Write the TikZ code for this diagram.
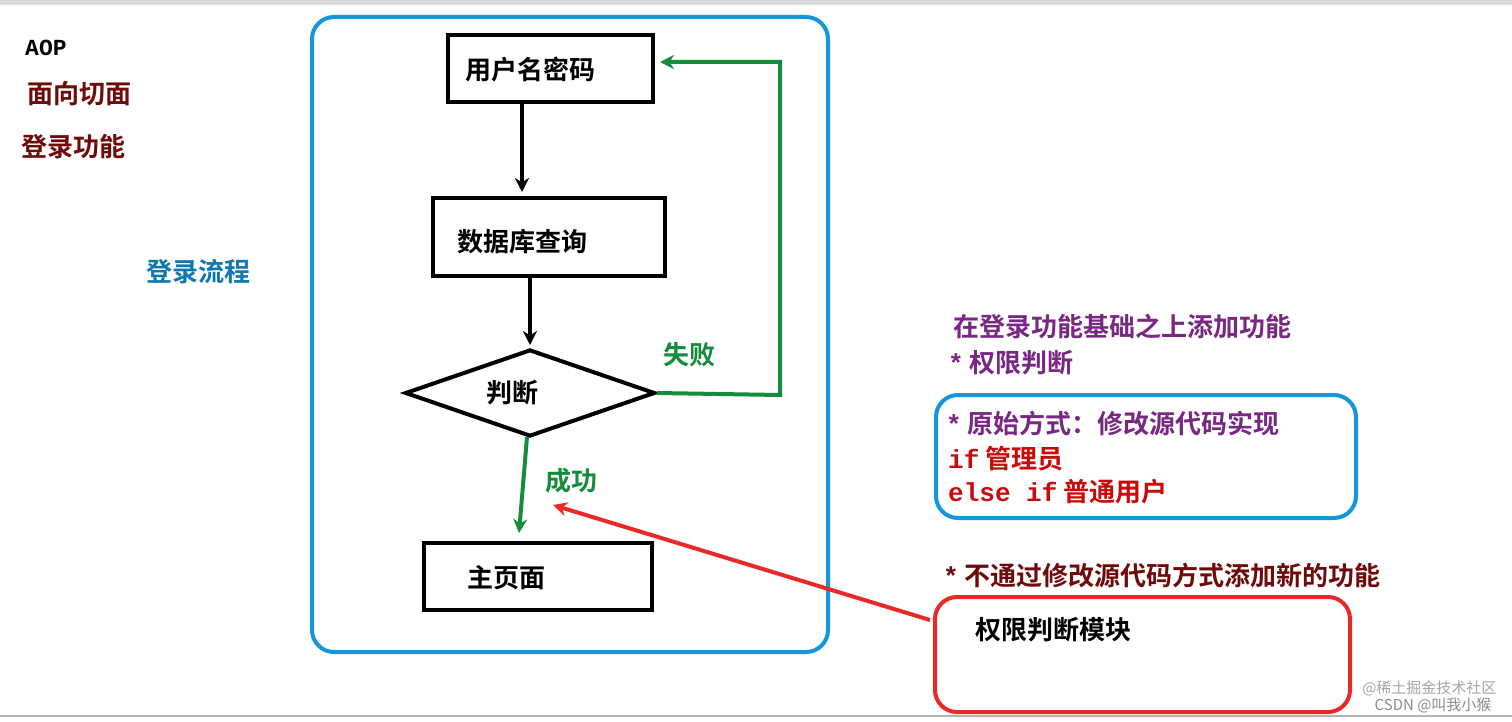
\documentclass[tikz,border=0pt]{standalone}
\usepackage{fontspec}
\setmainfont{Noto Sans CJK SC}[BoldFont={Noto Sans CJK SC Bold}]
\newfontfamily\mono{Liberation Mono}[BoldFont={Liberation Mono Bold}]
\usetikzlibrary{shapes.geometric,arrows.meta}
\definecolor{bblue}{RGB}{20,150,220}
\definecolor{maroon}{RGB}{110,10,10}
\definecolor{gr}{RGB}{20,140,60}
\definecolor{pur}{RGB}{120,40,130}
\definecolor{rd}{RGB}{200,10,10}
\definecolor{rline}{RGB}{235,40,40}
\tikzset{x=1pt,y=-1pt,
 fbox/.style={draw=black,line width=4pt,inner sep=0pt},
 txt/.style={font=\bfseries\fontsize{26}{30}\selectfont,inner sep=0pt},
 arr/.style={line width=4pt,-{Stealth[length=14pt,width=14pt]}},
 lt/.style={txt,anchor=west}}
\begin{document}
\begin{tikzpicture}
\useasboundingbox (0,0) rectangle (1512,722);
\fill[white] (0,0) rectangle (1512,722);
\fill[black!15] (0,0) rectangle (1512,5);
\draw[black!30,line width=2pt] (0,716) -- (1512,716);
\draw[bblue,line width=4pt,rounded corners=22pt] (312,17) rectangle (828,652);
\node[fbox,minimum width=205pt,minimum height=67pt] (u) at (550.5,68.5) {};
\node[lt] at (465,70) {用户名密码};
\node[fbox,minimum width=232pt,minimum height=78pt] (d) at (549,237) {};
\node[lt] at (457,242) {数据库查询};
\node[diamond,draw=black,line width=4pt,inner sep=0pt,minimum width=250pt,minimum height=87pt,aspect=2.9] (j) at (530,393) {};
\node[lt] at (486,393) {判断};
\node[fbox,minimum width=228pt,minimum height=67pt] (m) at (538,576.5) {};
\node[lt] at (467,578) {主页面};
\coordinate (a1) at (522,102); \coordinate (a2) at (522,192);
\draw[arr] (a1) -- (a2);
\coordinate (b1) at (530,276); \coordinate (b2) at (530,345);
\draw[arr] (b1) -- (b2);
\coordinate (g1) at (780,395); \coordinate (g2) at (780,62); \coordinate (g3) at (660,62);
\draw[arr,gr] (j.east) -- (g1) -- (g2) -- (g3);
\node[lt,text=gr] at (663,355) {失败};
\coordinate (s1) at (527,437); \coordinate (s2) at (519,533);
\draw[arr,gr] (s1) -- (s2);
\node[lt,text=gr] at (545,481) {成功};
\node[lt,font=\mono\bfseries\fontsize{23}{26}\selectfont] at (25,48) {AOP};
\node[lt,text=maroon] at (27,94) {面向切面};
\node[lt,text=maroon] at (21,147) {登录功能};
\node[lt,text=bblue!80!black] at (146,272) {登录流程};
\node[lt,text=pur] at (953,327) {在登录功能基础之上添加功能};
\node[lt,text=pur] at (948,363) {{\mono *} 权限判断};
\draw[bblue,line width=4pt,rounded corners=22pt] (936,395) rectangle (1356,518);
\node[lt,text=pur] at (946,423) {{\mono *} 原始方式：修改源代码实现};
\node[lt,text=rd] at (948,459) {{\mono if} 管理员};
\node[lt,text=rd] at (948,492) {{\mono else if} 普通用户};
\node[lt,text=maroon] at (943,575) {{\mono *} 不通过修改源代码方式添加新的功能};
\draw[rline,line width=4pt,rounded corners=22pt] (935,597) rectangle (1350,712);
\node[lt] (p) at (975,630) {权限判断模块};
\coordinate (r1) at (930,620); \coordinate (r2) at (553,505);
\draw[arr,rline] (r1) -- (r2);
\node[anchor=east,text=black!35,font=\fontsize{15}{17}\selectfont] at (1500,688) {@稀土掘金技术社区};
\node[anchor=east,text=black!45,font=\fontsize{15}{17}\selectfont] at (1495,706) {CSDN @叫我小猴};
\end{tikzpicture}
\end{document}
